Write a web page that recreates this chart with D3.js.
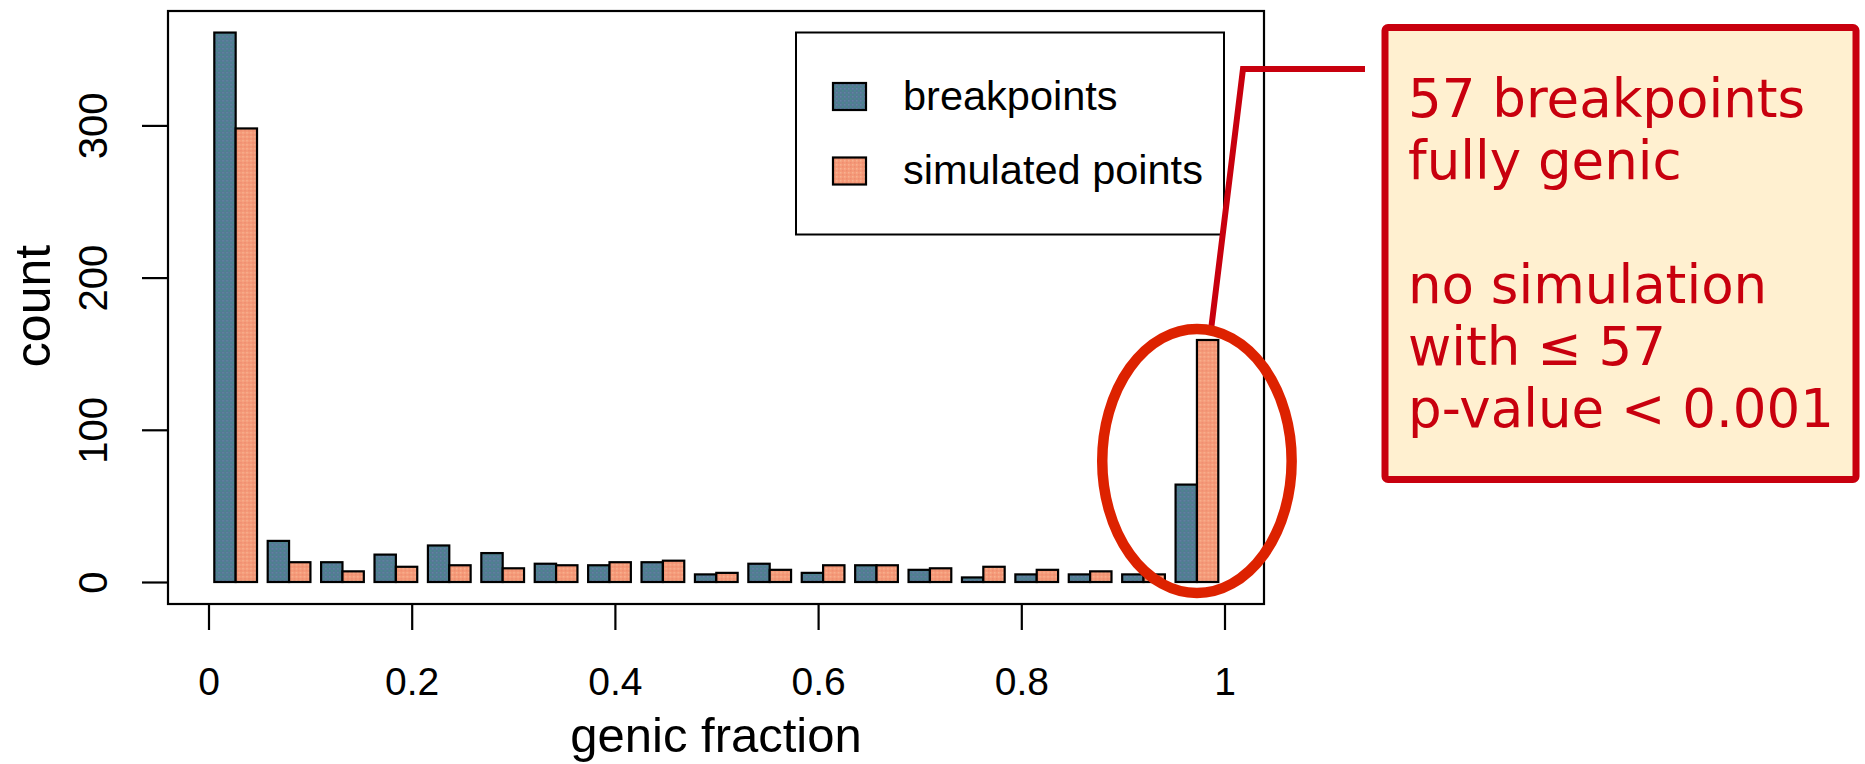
<!DOCTYPE html>
<html>
<head>
<meta charset="utf-8">
<script src="https://cdn.jsdelivr.net/npm/d3@7"></script>
<style>
  body { margin: 0; background: #fff; }
  svg { display: block; }
</style>
</head>
<body>
<div id="chart"></div>
<script>
// Data
const bins = ["0.03", "0.08", "0.13", "0.18", "0.24", "0.29", "0.34", "0.39", "0.45", "0.50",
              "0.55", "0.60", "0.66", "0.71", "0.76", "0.81", "0.87", "0.92", "0.97"];
const series = ["breakpoints", "simulated points"];
const breakpoints = [361, 27, 13, 18, 24, 19, 12, 11, 13, 5, 12, 6, 11, 8, 3, 5, 5, 5, 64];
const simulated   = [298, 13, 7, 10, 11, 9, 11, 13, 14, 6, 8, 11, 11, 9, 10, 8, 7, 5, 159];
const yTicks = [0, 100, 200, 300];
const xTicks = [0, 0.2, 0.4, 0.6, 0.8, 1];
const xTickLabels = ["0", "0.2", "0.4", "0.6", "0.8", "1"];
const noteLines = ["57 breakpoints", "fully genic", "", "no simulation", "with \u2264 57", "p-value < 0.001"];

const W = 1865, H = 764;
const frame = {left: 168, top: 11, right: 1264, bottom: 604};
const font = "'Liberation Sans', Arial, Helvetica, sans-serif";
const red = "#c8000e";

const svg = d3.select("#chart").append("svg")
  .attr("width", W)
  .attr("height", H);

svg.append("rect").attr("width", W).attr("height", H).attr("fill", "#fff");

// dotted textures like the original fills
const defs = svg.append("defs");
function texture(id, base, dotA, dotB) {
  const p = defs.append("pattern")
    .attr("id", id)
    .attr("patternUnits", "userSpaceOnUse")
    .attr("width", 4).attr("height", 4);
  p.append("rect").attr("width", 4).attr("height", 4).attr("fill", base);
  p.append("rect").attr("x", 0).attr("y", 0).attr("width", 1.5).attr("height", 1.5).attr("fill", dotA);
  p.append("rect").attr("x", 2).attr("y", 2).attr("width", 1.5).attr("height", 1.5).attr("fill", dotB);
}
texture("tex-blue", "#527a93", "#6680a6", "#4a8c8c");
texture("tex-orange", "#f59a78", "#f7b292", "#ee8c70");
const fills = {"breakpoints": "url(#tex-blue)", "simulated points": "url(#tex-orange)"};

// scales
const y = d3.scaleLinear().domain([0, 300]).range([582, 125.4]);
const x = d3.scaleLinear().domain([0, 1]).range([208.5, 1224.5]);
const xBin = d3.scaleBand().domain(bins).range([214.3, 1218.3]).paddingInner(0.2).paddingOuter(0);
const xSer = d3.scaleBand().domain(series).range([0, xBin.bandwidth()]);

const rows = bins.map((b, i) => ({bin: b, values: [
  {key: "breakpoints", value: breakpoints[i]},
  {key: "simulated points", value: simulated[i]}
]}));

// bars
const groups = svg.selectAll(".grp")
  .data(rows)
  .enter().append("g")
  .attr("class", "grp")
  .attr("transform", d => "translate(" + xBin(d.bin) + ",0)");

groups.selectAll("rect")
  .data(d => d.values)
  .enter().append("rect")
  .attr("x", d => xSer(d.key))
  .attr("y", d => y(d.value))
  .attr("width", xSer.bandwidth())
  .attr("height", d => y(0) - y(d.value))
  .attr("fill", d => fills[d.key])
  .attr("stroke", "#000")
  .attr("stroke-width", 2.2);

// plot frame
svg.append("rect")
  .attr("x", frame.left).attr("y", frame.top)
  .attr("width", frame.right - frame.left)
  .attr("height", frame.bottom - frame.top)
  .attr("fill", "none")
  .attr("stroke", "#000")
  .attr("stroke-width", 2.2);

// y axis
const yAxis = svg.append("g")
  .attr("transform", "translate(" + frame.left + ",0)")
  .call(d3.axisLeft(y).tickValues(yTicks).tickSize(26).tickSizeOuter(0));
yAxis.select(".domain").remove();
yAxis.selectAll("line").attr("stroke-width", 2.2);
yAxis.selectAll("text")
  .attr("transform", "rotate(-90)")
  .attr("x", 0).attr("y", -61).attr("dy", 0)
  .attr("text-anchor", "middle")
  .style("font-family", font).style("font-size", "40px").attr("fill", "#000");

// x axis
const xAxis = svg.append("g")
  .attr("transform", "translate(0," + frame.bottom + ")")
  .call(d3.axisBottom(x).tickValues(xTicks).tickSize(26).tickSizeOuter(0)
    .tickFormat((d, i) => xTickLabels[i]));
xAxis.select(".domain").remove();
xAxis.selectAll("line").attr("stroke-width", 2.2);
xAxis.selectAll("text")
  .attr("y", 91).attr("dy", 0)
  .style("font-family", font).style("font-size", "39px").attr("fill", "#000");

// axis titles
svg.append("text")
  .attr("x", (frame.left + frame.right) / 2).attr("y", 752)
  .attr("text-anchor", "middle")
  .style("font-family", font).style("font-size", "49px")
  .text("genic fraction");

svg.append("text")
  .attr("transform", "translate(50,306) rotate(-90)")
  .attr("text-anchor", "middle")
  .style("font-family", font).style("font-size", "50px")
  .text("count");

// legend
const legend = svg.append("g");
legend.append("rect")
  .attr("x", 796).attr("y", 32.5).attr("width", 428).attr("height", 202)
  .attr("fill", "#fff").attr("stroke", "#000").attr("stroke-width", 2);
legend.selectAll(".key")
  .data(series)
  .enter().append("rect")
  .attr("class", "key")
  .attr("x", 833).attr("y", (d, i) => 83 + i * 74.5)
  .attr("width", 33).attr("height", 27)
  .attr("fill", d => fills[d]).attr("stroke", "#000").attr("stroke-width", 2.2);
legend.selectAll(".lab")
  .data(series)
  .enter().append("text")
  .attr("class", "lab")
  .attr("x", 903).attr("y", (d, i) => 110 + i * 74)
  .style("font-family", font).style("font-size", "41.5px")
  .text(d => d);

// connector from note to the circled bars
svg.append("polyline")
  .attr("points", "1365,69 1243,69 1211,330")
  .attr("fill", "none").attr("stroke", red).attr("stroke-width", 6)
  .attr("stroke-linejoin", "miter");

// ellipse around the last bin
const last = bins[bins.length - 1];
svg.append("ellipse")
  .attr("cx", xBin(last) + xBin.bandwidth() / 2)
  .attr("cy", 461).attr("rx", 94.7).attr("ry", 132)
  .attr("fill", "none").attr("stroke", "#dd2200").attr("stroke-width", 10.5);

// note box
svg.append("rect")
  .attr("x", 1385).attr("y", 27.5).attr("width", 471).attr("height", 452).attr("rx", 3)
  .attr("fill", "#fff0d0").attr("stroke", red).attr("stroke-width", 7);

svg.append("g").selectAll("text")
  .data(noteLines)
  .enter().append("text")
  .attr("x", 1408).attr("y", (d, i) => 117 + i * 61.9)
  .attr("fill", red)
  .style("font-family", "'DejaVu Sans', sans-serif").style("font-size", "53px")
  .text(d => d);
</script>
</body>
</html>
